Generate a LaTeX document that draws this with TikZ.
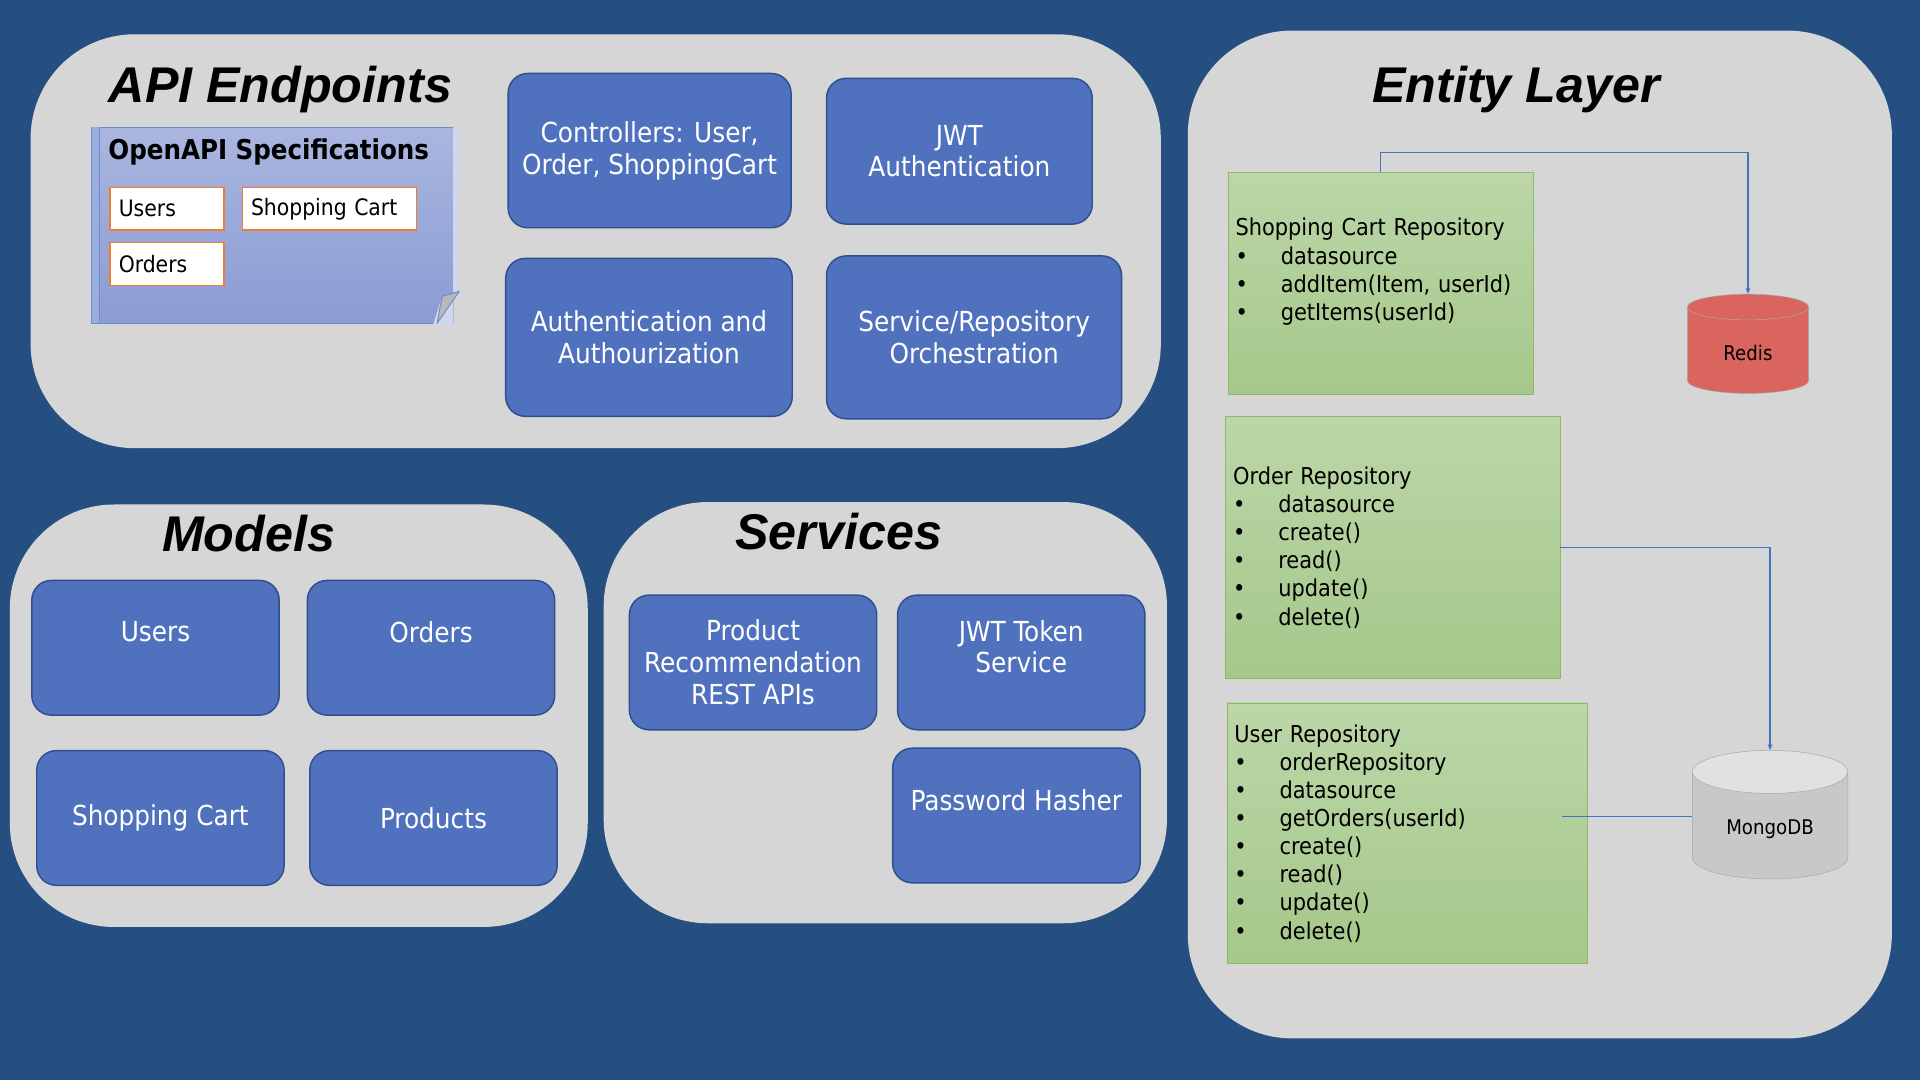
\documentclass[tikz,border=0pt]{standalone}
\usepackage{fontspec}
\setmainfont{DejaVu Sans Condensed}
\newfontfamily\headfont{Liberation Sans}
\usetikzlibrary{shapes.geometric,arrows.meta}
\definecolor{bgblue}{RGB}{38,79,129}
\definecolor{panelgray}{RGB}{214,214,214}
\definecolor{boxblue}{RGB}{80,113,190}
\definecolor{boxedge}{RGB}{47,80,140}
\definecolor{greentop}{RGB}{188,214,168}
\definecolor{greenbot}{RGB}{165,200,138}
\definecolor{greenedge}{RGB}{140,186,104}
\definecolor{specorange}{RGB}{237,125,49}
\definecolor{linkblue}{RGB}{68,114,196}
\definecolor{redisred}{RGB}{218,101,94}
\definecolor{mongobody}{RGB}{200,200,200}
\definecolor{mongoend}{RGB}{225,225,225}
\definecolor{spectop}{RGB}{170,182,224}
\definecolor{specbot}{RGB}{138,156,211}
\definecolor{specedge}{RGB}{110,138,208}
\definecolor{specback}{RGB}{208,214,236}
\newcommand\itm[1]{\makebox[37pt][l]{•}#1}
\begin{document}
\begin{tikzpicture}[x=1pt, y=-1pt, line join=round,
	panel/.style={fill=panelgray, rounded corners=85pt, inner sep=0pt},
	title/.style={anchor=base, font=\headfont\fontsize{41}{46}\selectfont\bfseries\itshape},
	bluebox/.style={draw=boxedge, line width=1.2pt, fill=boxblue, rounded corners=16pt, text=white, align=center,
		minimum width=202pt, minimum height=110pt, font=\fontsize{22.5}{26}\selectfont},
	specitem/.style={draw=specorange, line width=1.2pt, fill=white, minimum height=35pt, inner xsep=7pt,
		align=left, font=\fontsize{18.5}{22}\selectfont},
	repo/.style={draw=greenedge, top color=greentop, bottom color=greenbot, inner xsep=6pt, align=left,
		font=\fontsize{19}{23}\selectfont},
	db/.style={cylinder, shape border rotate=90, aspect=0.45, draw=gray!70, cylinder uses custom fill,
		font=\fontsize{16.5}{19}\selectfont},
	link/.style={draw=linkblue, line width=0.9pt},
	>={Stealth[length=5pt,width=4pt]}]
	\fill[bgblue] (0,0) rectangle (1568,882);
	\node[panel, minimum width=923pt, minimum height=338pt] (apiPanel) at (486.5,197) {};
	\node[panel, minimum width=472pt, minimum height=345pt] (modelPanel) at (244,584.5) {};
	\node[panel, minimum width=460pt, minimum height=344pt] (servicePanel) at (723,582) {};
	\node[panel, minimum width=575pt, minimum height=823pt] (entityPanel) at (1257.5,436.5) {};
	\node[title] (apiTitle) at (229,84) {API Endpoints};
	\node[title] (entityTitle) at (1238,84) {Entity Layer};
	\node[title] (modelTitle) at (203,450) {Models};
	\node[title] (serviceTitle) at (685,449) {Services};
	\node[minimum width=295pt, minimum height=160pt, top color=spectop, bottom color=specbot, draw=specedge,
		line width=0.8pt, inner sep=0pt] (spec) at (222.5,184) {};
	\fill[specback] (370,104) -- (375,106) -- (375,238) -- (370,240) -- cycle;
	\fill[specback] (354,264.4) -- (361,242) -- (370.4,240) -- (370.4,264.4) -- cycle;
	\filldraw[fill=gray!55, draw=specedge, line width=0.8pt] (361,242) -- (375,238) -- (357,264) -- cycle;
	\fill[specedge!70] (75,104) rectangle (81,264);
	\draw[specedge, line width=0.8pt] (81,104) -- (81,264);
	\node[anchor=west, font=\bfseries\fontsize{22.3}{26}\selectfont] (specTitle) at (85,124) {OpenAPI Specifications};
	\node[specitem, text width=79pt] (specUsers) at (136.5,170.5) {Users};
	\node[specitem, text width=128pt] (specCart) at (269,170.5) {Shopping Cart};
	\node[specitem, text width=79pt] (specOrders) at (136.5,215.5) {Orders};
	\node[bluebox, minimum width=231pt, minimum height=126pt] (ctrl) at (530.5,123) {Controllers: User,\\Order, ShoppingCart};
	\node[bluebox, minimum width=217pt, minimum height=119pt] (jwtAuth) at (783.5,123.5) {JWT\\Authentication};
	\node[bluebox, minimum width=234pt, minimum height=129pt] (authz) at (530,275.5) {Authentication and\\Authourization};
	\node[bluebox, minimum width=241pt, minimum height=133pt] (orch) at (795.5,275.5) {Service/Repository\\Orchestration};
	\node[bluebox] (users) at (127,529) {Users\\\mbox{}};
	\node[bluebox] (orders) at (352,529) {Orders\\\mbox{}};
	\node[bluebox] (cart) at (131,668) {Shopping Cart};
	\node[bluebox] (products) at (354,668) {Products};
	\node[bluebox] (recom) at (615,541) {Product\\Recommendation\\REST APIs};
	\node[bluebox] (jwtToken) at (834,541) {JWT Token\\Service\\\mbox{}};
	\node[bluebox] (hasher) at (830,666) {Password Hasher\\\mbox{}};
	\node[repo, text width=237pt, minimum height=181pt] (cartRepo) at (1127.5,231.5)
		{Shopping Cart Repository\\\itm{datasource}\\\itm{addItem(Item, userId)}\\\itm{getItems(userId)}\\\mbox{}};
	\node[repo, text width=261pt, minimum height=214pt] (orderRepo) at (1137.5,447)
		{Order Repository\\\itm{datasource}\\\itm{create()}\\\itm{read()}\\\itm{update()}\\\itm{delete()}};
	\node[repo, text width=282pt, minimum height=213pt] (userRepo) at (1149,680.5)
		{User Repository\\\itm{orderRepository}\\\itm{datasource}\\\itm{getOrders(userId)}\\\itm{create()}\\\itm{read()}\\\itm{update()}\\\itm{delete()}};
	\node[db, cylinder body fill=redisred, cylinder end fill=redisred, minimum width=99pt, minimum height=81pt] (redis) at (1427.5,288) {Redis};
	\node[db, cylinder body fill=mongobody, cylinder end fill=mongoend, minimum width=127pt, minimum height=105pt] (mongo) at (1445.5,677) {MongoDB};
	\draw[link, ->] (cartRepo.north) -- ++(0,-16) -| (redis.north);
	\draw[link, ->] (orderRepo.east) -| (mongo.north);
	\coordinate (userOut) at (1276,667);
	\draw[link] (userOut) -- (userOut -| mongo.west);
\end{tikzpicture}
\end{document}
